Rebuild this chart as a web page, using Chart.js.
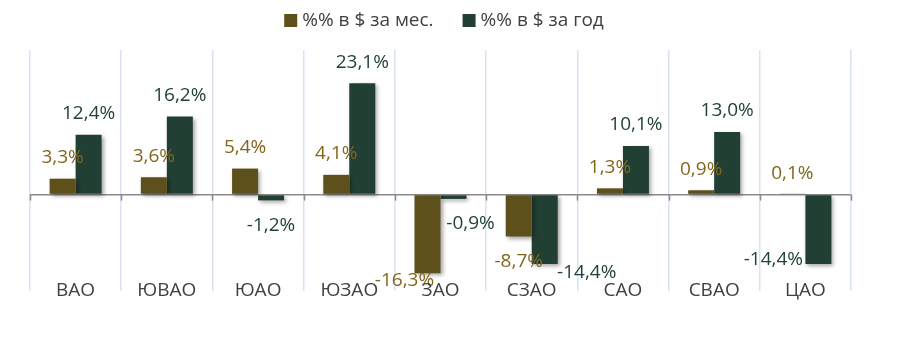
<!DOCTYPE html>
<html>
<head>
<meta charset="utf-8">
<script src="https://cdn.jsdelivr.net/npm/chart.js@4.4.0/dist/chart.umd.min.js"></script>
<style>
  html, body { margin: 0; padding: 0; background: #fff; }
</style>
</head>
<body>
<canvas id="chart" width="915" height="349"></canvas>
<script>
const districts = ['ВАО', 'ЮВАО', 'ЮАО', 'ЮЗАО', 'ЗАО', 'СЗАО', 'САО', 'СВАО', 'ЦАО'];
const monthChange = [3.3, 3.6, 5.4, 4.1, -16.3, -8.7, 1.3, 0.9, 0.1];
const yearChange = [12.4, 16.2, -1.2, 23.1, -0.9, -14.4, 10.1, 13.0, -14.4];

// hand-moved labels in the original (pixel nudges, dx/dy)
const monthLabelShift = [[0, 0], [0, 0], [0, 0], [0, 0], [-23, -18], [0, 0], [0, 0], [0, 0], [0, 0]];
const yearLabelShift = [[0, 0], [0, 0], [0, 0], [0, 0], [17, 0], [42, -16], [0, 0], [0, 0], [-45, -29]];

const FONT = '"Open Sans", "Noto Sans", sans-serif';
const monthColor = '#5e501b';
const yearColor = '#223f34';

const fmt = v => v.toFixed(1).replace('.', ',') + '%';

const extras = {
  id: 'extras',
  beforeDatasetsDraw(chart) {
    const ctx = chart.ctx;
    ctx.save();
    ctx.shadowColor = 'rgba(0,0,0,0.35)';
    ctx.shadowBlur = 4;
    ctx.shadowOffsetX = 2;
    ctx.shadowOffsetY = 2;
  },
  afterDatasetsDraw(chart) {
    const ctx = chart.ctx;
    ctx.restore();
    const x = chart.scales.x, y = chart.scales.y;
    const y0 = y.getPixelForValue(0);

    // small ticks under the zero line
    ctx.save();
    ctx.strokeStyle = '#8a8a8a';
    ctx.lineWidth = 1.5;
    for (let i = 0; i <= districts.length; i++) {
      const px = Math.round(x.getPixelForValue(i - 0.5)) + 0.5;
      ctx.beginPath();
      ctx.moveTo(px, y0);
      ctx.lineTo(px, y0 + 6);
      ctx.stroke();
    }
    ctx.restore();

    // data labels
    ctx.save();
    ctx.font = '19px ' + FONT;
    ctx.textAlign = 'center';
    ctx.textBaseline = 'middle';
    const shifts = [monthLabelShift, yearLabelShift];
    const colors = ['#82661c', '#23413a'];
    chart.data.datasets.forEach((ds, di) => {
      chart.getDatasetMeta(di).data.forEach((bar, i) => {
        const v = ds.data[i];
        const [dx, dy] = shifts[di][i];
        const ly = v >= 0 ? bar.y - 21 : bar.y + 25;
        ctx.fillStyle = colors[di];
        ctx.fillText(fmt(v), bar.x + dx, ly + dy);
      });
    });

    // category labels sit on the bottom edge of the plot
    ctx.fillStyle = '#404040';
    districts.forEach((d, i) => {
      ctx.fillText(d, x.getPixelForValue(i), chart.chartArea.bottom);
    });

    // legend
    ctx.textAlign = 'left';
    const sets = chart.data.datasets;
    const widths = sets.map(ds => ctx.measureText(ds.label).width);
    const total = widths.reduce((a, b) => a + b, 0) + sets.length * 18 + 29 * (sets.length - 1);
    let lx = 444 - total / 2;
    sets.forEach((ds, i) => {
      ctx.fillStyle = ds.backgroundColor;
      ctx.fillRect(lx, 14, 13, 13);
      ctx.fillStyle = '#404040';
      ctx.fillText(ds.label, lx + 18, 21);
      lx += 18 + widths[i] + 29;
    });
    ctx.restore();
  }
};

new Chart(document.getElementById('chart'), {
  type: 'bar',
  data: {
    labels: districts,
    datasets: [
      { label: '%% в $ за мес.', data: monthChange, backgroundColor: monthColor },
      { label: '%% в $ за год', data: yearChange, backgroundColor: yearColor }
    ]
  },
  options: {
    responsive: false,
    animation: false,
    categoryPercentage: 0.57,
    barPercentage: 1,
    layout: { padding: { left: 30, right: 64, top: 50, bottom: 58 } },
    plugins: {
      legend: { display: false },
      tooltip: { enabled: false }
    },
    scales: {
      x: {
        ticks: { display: false },
        border: { display: false },
        grid: { offset: true, drawTicks: false, color: '#dae2f2', lineWidth: 1.5 }
      },
      y: {
        min: -20,
        max: 30,
        ticks: { display: false, stepSize: 10 },
        border: { display: false },
        grid: {
          drawTicks: false,
          lineWidth: 1.5,
          color: c => c.tick.value === 0 ? '#8a8a8a' : 'transparent'
        }
      }
    }
  },
  plugins: [extras]
});
</script>
</body>
</html>
